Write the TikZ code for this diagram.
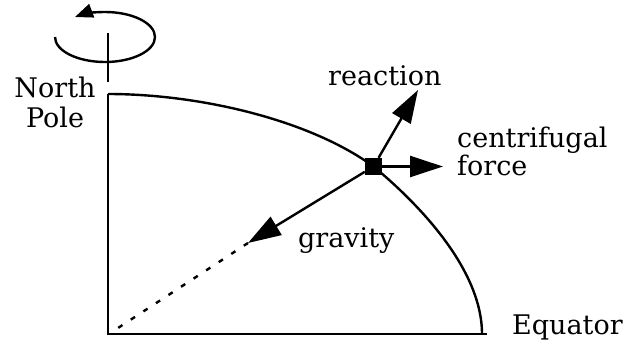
\documentclass[tikz,border=0pt]{standalone}
\usepackage{fontspec}
\setmainfont{DejaVu Serif}
\usetikzlibrary{arrows.meta}

\begin{document}
\begin{tikzpicture}[x=1pt,y=-1pt,font=\fontsize{27}{25}\selectfont,
 lbl/.style={anchor=base west,inner sep=0pt,align=left},
 earth/.style={draw=black,line width=2.4pt},
 force/.style={-{Triangle[length=33pt,width=21pt]},draw=black,line width=2.4pt},
 spin/.style={-{Triangle[length=18pt,width=14pt]},draw=black,line width=2.4pt}]
\path[use as bounding box] (0,0) rectangle (627,345);
% quarter of the earth
\coordinate (pole) at (108,94);
\coordinate (centre) at (108,334);
\coordinate (equ) at (487,334);
\coordinate (rim) at (482,334);
\node[fill=black,minimum size=17pt,inner sep=0pt] (mass) at (373.5,166.5) {};
\draw[earth] (pole) -- (centre) -- (equ);
\draw[earth] (pole) .. controls (200,94) and (310,120) .. (mass.center)
 .. controls (420,205) and (482,270) .. (rim);
% rotation axis
\coordinate (axtop) at (108,33);
\coordinate (axbot) at (108,82);
\draw[earth] (axtop) -- (axbot);
\draw[spin] (55,37) arc[start angle=180,end angle=-127,x radius=50,y radius=25];
% forces on the mass
\coordinate (rtip) at (418,90);
\coordinate (ctip) at (443,166.5);
\coordinate (gtip) at (248,243);
\coordinate (gend) at (118,328);
\draw[force] (mass) -- (rtip);
\draw[force] (mass) -- (ctip);
\draw[force] (mass) -- (gtip);
\draw[line width=2.4pt,dash pattern=on 5pt off 10pt] (gtip) -- (gend);
\node[lbl,align=center,anchor=base,font=\fontsize{27}{30}\selectfont] (nlabel) at (55,128) {North\\Pole};
\node[lbl] (rlabel) at (328,85) {reaction};
\node[lbl] (clabel) at (457,175) {centrifugal\\force};
\node[lbl] (glabel) at (298,247) {gravity};
\node[lbl] (elabel) at (512,334) {Equator};
\end{tikzpicture}
\end{document}
